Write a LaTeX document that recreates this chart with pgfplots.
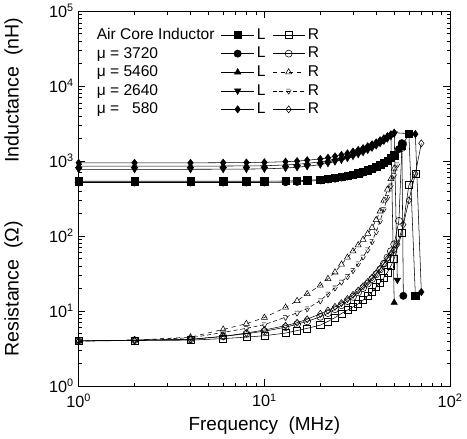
\documentclass[border=0pt]{standalone}
\usepackage{fontspec}
\setmainfont{Liberation Sans}
\usepackage{pgfplots}
\pgfplotsset{compat=1.18}

\begin{document}
\begin{tikzpicture}
\pgfplotsset{
  Lline/.style={black, line width=0.4pt, solid, mark size=2.7pt, mark options={solid, fill=black}},
  Rline/.style={black, line width=0.4pt, mark size=2.6pt, mark options={solid, fill=white}},
  longimg/.style={legend image code/.code={%
    \draw[mark repeat=2,mark phase=2] plot coordinates {(0cm,0cm) (0.42cm,0cm) (0.84cm,0cm)};}},
}
\begin{axis}[
    scale only axis,
    width=274.5pt,
    height=277pt,
    xmode=log, ymode=log,
    xmin=1, xmax=100,
    ymin=1, ymax=1e5,
    xtick={1,10,100},
    xticklabels={10\textsuperscript{0},10\textsuperscript{1},10\textsuperscript{2}},
    ytick={1,10,100,1000,10000,100000},
    yticklabels={10\textsuperscript{0},10\textsuperscript{1},10\textsuperscript{2},10\textsuperscript{3},10\textsuperscript{4},10\textsuperscript{5}},
    tick align=inside,
    major tick length=5pt,
    minor tick length=2.5pt,
    axis line style={line width=0.8pt},
    every tick/.style={black, line width=0.5pt},
    tick label style={font=\fontsize{12}{14}\selectfont},
    xticklabel style={yshift=-2pt},
    label style={font=\fontsize{14}{16}\selectfont},
    xlabel={Frequency\ \ (MHz)},
    clip=false,
    legend columns=3,
    legend cell align=left,
    legend style={draw=none, fill=none, at={(0.03,0.97)}, anchor=north west,
        font=\fontsize{11.5}{13}\selectfont, row sep=0.2pt,
        /tikz/every even column/.append style={column sep=3pt}},
]

% ---- air core inductor
\addplot[Lline, mark=square*, forget plot] coordinates {
 (1,540) (2,540) (4,540) (6,540) (8,540) (10,540) (13,545) (15,550) (17,555)
 (20,570) (22,585) (24,600) (26,620) (28,640) (30,665) (32,690) (34,720)
 (36,755) (38,795) (40,840) (42,890) (44,950) (46,1020) (48,1100) (50,1200)
 (55,1600) (60,2300) (65,16)
};
\addplot[Rline, mark=square, forget plot] coordinates {
 (1,4.0) (2,4.05) (4,4.1) (6,4.3) (8,4.5) (10,4.7) (13,5.1) (15,5.5) (17,5.9)
 (20,6.5) (22,7.3) (24,8.2) (26,9.3) (28,10.3) (30,11.4) (32,12.5) (34,14)
 (36,16) (38,18) (40,21) (42,24) (44,28) (46,33) (48,40) (50,50)
 (55,110) (60,480) (65,680)
};

% ---- mu = 3720
\addplot[Lline, mark=*, forget plot] coordinates {
 (1,520) (2,520) (4,520) (6,520) (8,520) (10,520) (13,525) (15,530) (17,540)
 (20,555) (22,570) (24,585) (26,605) (28,625) (30,650) (32,675) (34,705)
 (36,740) (38,780) (40,825) (42,875) (44,935) (46,1005) (48,1090) (50,1190)
 (53,1450) (55,1740) (56,16)
};
\addplot[Rline, mark=o, forget plot] coordinates {
 (1,4.0) (2,4.1) (4,4.2) (6,4.6) (8,5.0) (10,5.4) (13,6.1) (15,6.7) (17,7.3)
 (20,8.4) (22,9.4) (24,10.6) (26,12) (28,13.6) (30,15.5) (32,17.8) (34,20.3)
 (36,23.3) (38,26.8) (40,31) (42,36) (44,43) (46,52) (48,63) (50,78)
 (53,160) (55,1500) (56,1700)
};

% ---- mu = 5460
\addplot[Lline, mark=triangle*, forget plot] coordinates {
 (1,860) (2,860) (4,860) (6,862) (8,865) (10,870) (13,890) (15,910) (17,935)
 (20,980) (22,1020) (24,1070) (26,1120) (28,1180) (30,1250) (32,1320) (34,1400)
 (36,1490) (38,1590) (40,1700) (42,1820) (44,1950) (46,2100) (48,2250) (50,13)
};
\addplot[Rline, dashed, mark=triangle, forget plot] coordinates {
 (1,4.0) (2,4.1) (4,4.5) (6,5.7) (8,6.8) (10,8.2) (13,11.2) (15,13.7) (17,17)
 (20,22) (22,27) (24,33) (26,42) (28,52) (30,63) (32,76) (34,90)
 (36,108) (38,130) (40,165) (42,215) (44,300) (46,420) (48,580) (50,800)
};

% ---- mu = 2640
\addplot[Lline, mark=triangle*, mark options={rotate=180}, forget plot] coordinates {
 (1,780) (2,780) (4,780) (6,782) (8,785) (10,790) (13,810) (15,830) (17,855)
 (20,900) (22,940) (24,990) (26,1040) (28,1100) (30,1170) (32,1240) (34,1320)
 (36,1410) (38,1510) (40,1620) (42,1740) (44,1870) (46,2010) (48,2160) (50,2320)
 (52,26)
};
\addplot[Rline, densely dashed, mark=triangle, mark options={rotate=180}, forget plot] coordinates {
 (1,4.0) (2,4.1) (4,4.4) (6,5.2) (8,5.9) (10,6.6) (13,8.3) (15,9.5) (17,10.8)
 (20,13.8) (22,17) (24,20.5) (26,24.5) (28,29) (30,35) (32,43) (34,53)
 (36,66) (38,85) (40,115) (42,160) (44,230) (46,330) (48,470) (50,650) (52,900)
};

% ---- mu = 580
\addplot[Lline, mark=diamond*, forget plot] coordinates {
 (1,950) (2,950) (4,950) (6,955) (8,960) (10,965) (13,985) (15,1000) (17,1030)
 (20,1070) (22,1110) (24,1160) (26,1210) (28,1270) (30,1340) (32,1410) (34,1490)
 (36,1580) (38,1680) (40,1780) (42,1900) (44,2020) (46,2150) (48,2280) (50,2400)
 (65,2300) (70,18)
};
\addplot[Rline, mark=diamond, forget plot] coordinates {
 (1,4.0) (2,4.1) (4,4.2) (6,4.6) (8,5.1) (10,5.6) (13,6.4) (15,7.0) (17,7.8)
 (20,9.2) (22,10.2) (24,11.4) (26,12.8) (28,14.5) (30,16.5) (32,18.8) (34,21.5)
 (36,24.5) (38,28) (40,32) (42,37) (44,43) (46,50) (48,58) (50,66)
 (52,78) (56,142) (60,300) (65,680) (70,1730)
};

% ---- legend
\addlegendimage{empty legend}\addlegendentry{Air Core Inductor}
\addlegendimage{Lline, longimg, mark=square*}\addlegendentry{L}
\addlegendimage{Rline, longimg, mark=square}\addlegendentry{R}
\addlegendimage{empty legend}\addlegendentry{μ = 3720}
\addlegendimage{Lline, longimg, mark=*}\addlegendentry{L}
\addlegendimage{Rline, longimg, mark=o}\addlegendentry{R}
\addlegendimage{empty legend}\addlegendentry{μ = 5460}
\addlegendimage{Lline, longimg, mark=triangle*}\addlegendentry{L}
\addlegendimage{Rline, longimg, dashed, mark=triangle}\addlegendentry{R}
\addlegendimage{empty legend}\addlegendentry{μ = 2640}
\addlegendimage{Lline, longimg, mark=triangle*, mark options={rotate=180}}\addlegendentry{L}
\addlegendimage{Rline, longimg, densely dashed, mark=triangle, mark options={rotate=180}}\addlegendentry{R}
\addlegendimage{empty legend}\addlegendentry{μ = \hphantom{0}580}
\addlegendimage{Lline, longimg, mark=diamond*}\addlegendentry{L}
\addlegendimage{Rline, longimg, mark=diamond}\addlegendentry{R}

\node[rotate=90, font=\fontsize{14.5}{16}\selectfont] at (axis description cs:-0.175,0.79) {Inductance\ \ (nH)};
\node[rotate=90, font=\fontsize{14.5}{16}\selectfont] at (axis description cs:-0.175,0.26) {Resistance\ \ (Ω)};
\end{axis}
\end{tikzpicture}
\end{document}
